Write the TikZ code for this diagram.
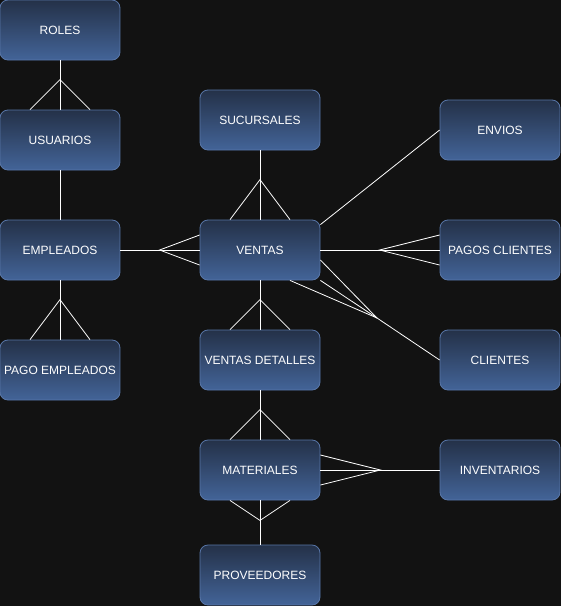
\documentclass[tikz,border=0pt]{standalone}
\usepackage{fontspec}
\setmainfont{Liberation Sans}
\usetikzlibrary{calc}

\definecolor{fondo}{RGB}{18,18,18}
\definecolor{cajaarriba}{RGB}{36,49,72}
\definecolor{cajaabajo}{RGB}{67,100,152}
\definecolor{borde}{RGB}{88,118,168}

\begin{document}
\begin{tikzpicture}[x=1pt,y=-1pt,
                    entidad/.style={draw=borde, line width=0.8pt, rounded corners=8pt,
                                    top color=cajaarriba, bottom color=cajaabajo,
                                    minimum width=120pt, minimum height=60pt, inner sep=1pt,
                                    text=white, font=\fontsize{12}{14}\selectfont},
                    rel/.style={draw=white, line width=0.8pt}]
    \useasboundingbox (0,0) rectangle (561,606);
    \fill[fondo] (0,0) rectangle (561,606);

    % entidades
    \node[entidad] (roles) at (60,30) {ROLES};
    \node[entidad] (usuarios) at (60,140) {USUARIOS};
    \node[entidad] (empleados) at (60,250) {EMPLEADOS};
    \node[entidad] (pagoempleados) at (60,370) {PAGO EMPLEADOS};
    \node[entidad] (sucursales) at (260,120) {SUCURSALES};
    \node[entidad] (ventas) at (260,250) {VENTAS};
    \node[entidad] (ventasdetalles) at (260,360) {VENTAS DETALLES};
    \node[entidad] (materiales) at (260,470) {MATERIALES};
    \node[entidad] (proveedores) at (260,575) {PROVEEDORES};
    \node[entidad] (envios) at (500,130) {ENVIOS};
    \node[entidad] (pagosclientes) at (500,250) {PAGOS CLIENTES};
    \node[entidad] (clientes) at (500,360) {CLIENTES};
    \node[entidad] (inventarios) at (500,470) {INVENTARIOS};

    % relaciones
    \draw[rel] (roles.south) -- (usuarios.north);
    \draw[rel] ($(usuarios.north)+(-30,0)$) -- ($(usuarios.north)+(0,-30)$) -- ($(usuarios.north)+(30,0)$);

    \draw[rel] (usuarios.south) -- (empleados.north);

    \draw[rel] (empleados.south) -- (pagoempleados.north);
    \draw[rel] ($(pagoempleados.north)+(-30,0)$) -- ($(pagoempleados.north)+(0,-40)$) -- ($(pagoempleados.north)+(30,0)$);

    \draw[rel] (empleados.east) -- (ventas.west);
    \draw[rel] ($(ventas.west)+(0,-15)$) -- ($(ventas.west)+(-40,0)$) -- ($(ventas.west)+(0,15)$);

    \draw[rel] (sucursales.south) -- (ventas.north);
    \draw[rel] ($(ventas.north)+(-30,0)$) -- ($(ventas.north)+(0,-40)$) -- ($(ventas.north)+(30,0)$);

    \draw[rel] ($(ventas.north east)+(0,5)$) -- (envios.west);

    \draw[rel] (ventas.east) -- (pagosclientes.west);
    \draw[rel] ($(pagosclientes.west)+(0,-15)$) -- ($(pagosclientes.west)+(-60,0)$) -- ($(pagosclientes.west)+(0,15)$);

    \coordinate (vc) at (377,318);
    \draw[rel] (clientes.west) -- (vc);
    \draw[rel] (vc) -- ($(ventas.east)+(0,10)$);
    \draw[rel] (vc) -- (ventas.south east);
    \draw[rel] (vc) -- ($(ventas.south)+(30,0)$);

    \draw[rel] (ventas.south) -- (ventasdetalles.north);
    \draw[rel] ($(ventasdetalles.north)+(-30,0)$) -- ($(ventasdetalles.north)+(0,-30)$) -- ($(ventasdetalles.north)+(30,0)$);

    \draw[rel] (ventasdetalles.south) -- (materiales.north);
    \draw[rel] ($(materiales.north)+(-30,0)$) -- ($(materiales.north)+(0,-30)$) -- ($(materiales.north)+(30,0)$);

    \draw[rel] (materiales.south) -- (proveedores.north);
    \draw[rel] ($(materiales.south)+(-30,0)$) -- ($(materiales.south)+(0,20)$) -- ($(materiales.south)+(30,0)$);

    \draw[rel] (materiales.east) -- (inventarios.west);
    \draw[rel] ($(materiales.east)+(0,-15)$) -- ($(materiales.east)+(60,0)$) -- ($(materiales.east)+(0,15)$);
\end{tikzpicture}
\end{document}
